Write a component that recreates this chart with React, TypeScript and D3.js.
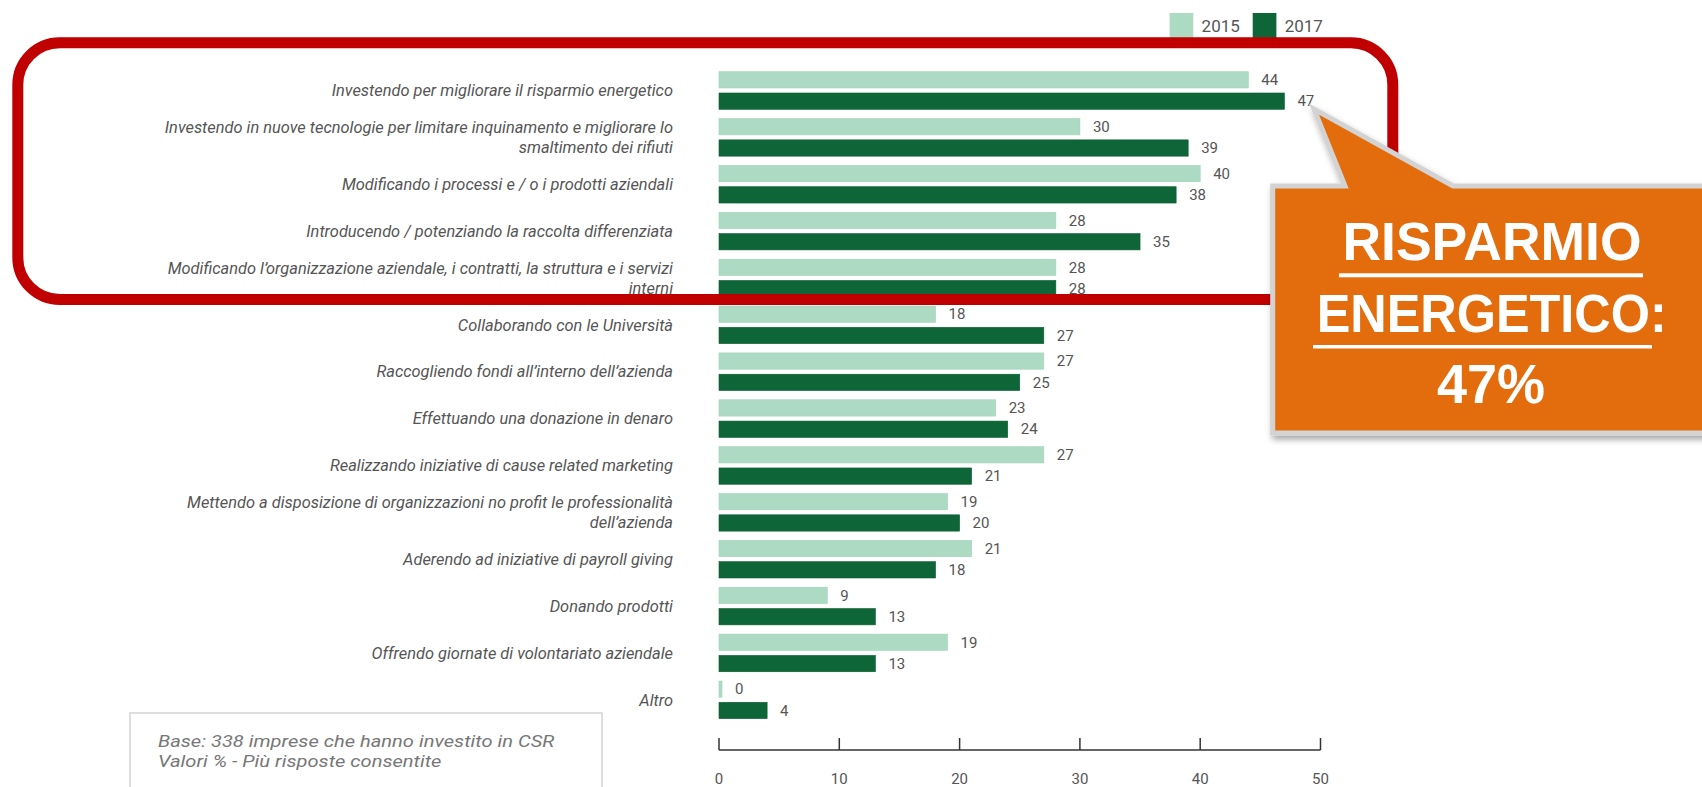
import React from "react";
import * as d3 from "d3";

const categories: string[][] = [
  ["Investendo per migliorare il risparmio energetico"],
  ["Investendo in nuove tecnologie per limitare inquinamento e migliorare lo", "smaltimento dei rifiuti"],
  ["Modificando i processi e / o i prodotti aziendali"],
  ["Introducendo / potenziando la raccolta differenziata"],
  ["Modificando l’organizzazione aziendale, i contratti, la struttura e i servizi", "interni"],
  ["Collaborando con le Università"],
  ["Raccogliendo fondi all’interno dell’azienda"],
  ["Effettuando una donazione in denaro"],
  ["Realizzando iniziative di cause related marketing"],
  ["Mettendo a disposizione di organizzazioni no profit le professionalità", "dell’azienda"],
  ["Aderendo ad iniziative di payroll giving"],
  ["Donando prodotti"],
  ["Offrendo giornate di volontariato aziendale"],
  ["Altro"],
];

const values2015: number[] = [44, 30, 40, 28, 28, 18, 27, 23, 27, 19, 21, 9, 19, 0];
const values2017: number[] = [47, 39, 38, 35, 28, 27, 25, 24, 21, 20, 18, 13, 13, 4];

const seriesNames: string[] = ["2015", "2017"];
const seriesColors: string[] = ["#addac3", "#0e6638"];
const tickValues: number[] = [0, 10, 20, 30, 40, 50];

const footnoteLines: string[] = [
  "Base: 338 imprese che hanno investito in CSR",
  "Valori % - Più risposte consentite",
];
const calloutLines: string[] = ["RISPARMIO", "ENERGETICO:", "47%"];

const W = 1702;
const H = 787;

export default function App() {
  const keys = categories.map((_, i) => String(i));
  const x = d3.scaleLinear().domain([0, 50]).range([719, 1320.5]);
  const step = 46.87;
  const y = d3
    .scaleBand<string>()
    .domain(keys)
    .range([67.06, 67.06 + step * keys.length])
    .paddingInner(0.198)
    .paddingOuter(0.099);
  const sub = d3
    .scaleBand<string>()
    .domain(seriesNames)
    .range([0, y.bandwidth()])
    .paddingInner(0.235);
  const series = [values2015, values2017];
  const axisY = 750;
  const labelX = 673;
  const font = "Roboto, 'Noto Sans', sans-serif";

  const calloutPath = [
    [1272.7, 186],
    [1345, 186],
    [1314, 109],
    [1453, 186],
    [1712, 186],
    [1712, 433],
    [1272.7, 433],
  ];
  const lineGen = d3.line();

  return (
    <svg
      width={W}
      height={H}
      style={{ position: "absolute", left: 0, top: 0, background: "#fff" }}
    >
      <defs>
        <filter id="shadow" x="-10%" y="-10%" width="130%" height="140%">
          <feDropShadow dx="2" dy="4" stdDeviation="3" floodColor="#000" floodOpacity="0.35" />
        </filter>
      </defs>
      <rect x={0} y={0} width={W} height={H} fill="#fff" />

      {/* legend */}
      {seriesNames.map((s, i) => {
        const lx = 1169.6 + i * 83.1;
        return (
          <g key={s}>
            <rect x={lx} y={13} width={23.7} height={26} fill={seriesColors[i]} />
            <text x={lx + 32} y={32} fontFamily={font} fontSize={17} fill="#555">
              {s}
            </text>
          </g>
        );
      })}

      {/* bars */}
      {keys.map((k, i) => {
        const gy = y(k)!;
        const cy = gy + y.bandwidth() / 2;
        const lines = categories[i];
        return (
          <g key={k}>
            {lines.map((ln, j) => {
              const ty = cy + (j - (lines.length - 1) / 2) * 20;
              return (
                <text
                  key={j}
                  x={labelX}
                  y={ty}
                  textAnchor="end"
                  dy="0.35em"
                  fontFamily={font}
                  fontStyle="italic"
                  fontSize={16.4}
                  fill="#555"
                >
                  {ln}
                </text>
              );
            })}
            {seriesNames.map((s, si) => {
              const v = series[si][i];
              const by = gy + sub(s)!;
              const w = Math.max(x(v) - x(0), 3);
              return (
                <g key={s}>
                  <rect
                    x={x(0)}
                    y={by}
                    width={w}
                    height={sub.bandwidth()}
                    fill={seriesColors[si]}
                    stroke={si === 0 ? "#a0d2b7" : "#0b5c31"}
                    strokeWidth={0.6}
                  />
                  <text
                    x={x(0) + w + 13}
                    y={by + sub.bandwidth() / 2}
                    dy="0.35em"
                    fontFamily={font}
                    fontSize={15}
                    fill="#555"
                  >
                    {v}
                  </text>
                </g>
              );
            })}
          </g>
        );
      })}

      {/* axis */}
      <g>
        <line x1={x(0)} x2={x(50)} y1={axisY} y2={axisY} stroke="#333" strokeWidth={1.5} />
        {tickValues.map((t) => (
          <g key={t}>
            <line x1={x(t)} x2={x(t)} y1={axisY - 12} y2={axisY} stroke="#333" strokeWidth={1.5} />
            <text x={x(t)} y={784} textAnchor="middle" fontFamily={font} fontSize={15} fill="#555">
              {t}
            </text>
          </g>
        ))}
      </g>

      {/* footnote box */}
      <rect x={130} y={713} width={472} height={100} fill="#fff" stroke="#d4d4d4" strokeWidth={1.5} />
      {footnoteLines.map((t, i) => (
        <text
          key={i}
          transform={`translate(158,${746.7 + i * 20}) scale(1.22,1)`}
          fontFamily={font}
          fontStyle="italic"
          fontSize={16.5}
          fill="#777"
        >
          {t}
        </text>
      ))}

      {/* red highlight */}
      <rect
        x={17.8}
        y={42.8}
        width={1392.8 - 17.8}
        height={299.5 - 42.8}
        rx={42}
        ry={42}
        fill="none"
        stroke="#c00000"
        strokeWidth={11}
      />

      {/* callout */}
      <path
        d={lineGen(calloutPath as [number, number][])! + "Z"}
        fill="#e36c0a"
        stroke="#d3d3d3"
        strokeWidth={5}
        strokeLinejoin="miter"
        filter="url(#shadow)"
      />
      <text
        x={1492}
        y={260}
        textAnchor="middle"
        fontFamily="'Liberation Sans', Arial, sans-serif"
        fontWeight="bold"
        fontSize={53}
        fill="#fff"
        textLength={299}
        lengthAdjust="spacingAndGlyphs"
      >
        {calloutLines[0]}
      </text>
      <rect x={1339} y={273.3} width={304} height={4} fill="#fff" />
      <text
        x={1491.7}
        y={331.7}
        textAnchor="middle"
        fontFamily="'Liberation Sans', Arial, sans-serif"
        fontWeight="bold"
        fontSize={53}
        fill="#fff"
        textLength={350}
        lengthAdjust="spacingAndGlyphs"
      >
        {calloutLines[1]}
      </text>
      <rect x={1313} y={345} width={339} height={3.5} fill="#fff" />
      <text
        x={1491}
        y={403.3}
        textAnchor="middle"
        fontFamily="'Liberation Sans', Arial, sans-serif"
        fontWeight="bold"
        fontSize={56}
        fill="#fff"
        textLength={108}
        lengthAdjust="spacingAndGlyphs"
      >
        {calloutLines[2]}
      </text>
    </svg>
  );
}
